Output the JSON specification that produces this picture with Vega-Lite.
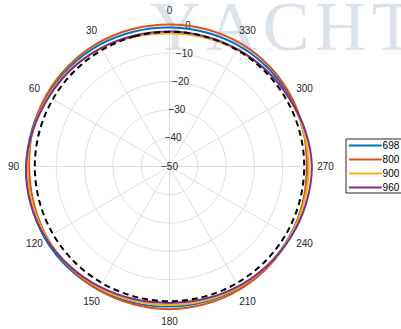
{
  "$schema": "https://vega.github.io/schema/vega-lite/v6.json",
  "width": 320,
  "height": 320,
  "autosize": {"type": "none"},
  "padding": {"left": 9.5, "top": 6.5, "right": 71.5, "bottom": 2.5},
  "background": "white",
  "config": {"view": {"stroke": null}, "font": "Liberation Sans"},
  "datasets": {
    "rings": [{"db": [-40, -30, -20, -10], "a": [0, 10, 20, 30, 40, 50, 60, 70, 80, 90, 100, 110, 120, 130, 140, 150, 160, 170, 180, 190, 200, 210, 220, 230, 240, 250, 260, 270, 280, 290, 300, 310, 320, 330, 340, 350]}],
    "spokes": [{"a": [0, 30, 60, 90, 120, 150, 180, 210, 240, 270, 300, 330], "db": [-50, -2.5]}],
    "rticks": [{"db": -50}, {"db": -40}, {"db": -30}, {"db": -20}, {"db": -10}, {"db": 0}],
    "angles": [{"a": 0}, {"a": 30}, {"a": 60}, {"a": 90}, {"a": 120}, {"a": 150}, {"a": 180}, {"a": 210}, {"a": 240}, {"a": 270}, {"a": 300}, {"a": 330}],
    "pattern": [
      {"f": "698 MHz", "a": 0, "v": -0.9}, {"f": "698 MHz", "a": 15, "v": -0.7}, {"f": "698 MHz", "a": 30, "v": -0.4}, {"f": "698 MHz", "a": 45, "v": -0.2},
      {"f": "698 MHz", "a": 60, "v": 0.0}, {"f": "698 MHz", "a": 75, "v": 0.3}, {"f": "698 MHz", "a": 90, "v": 0.6}, {"f": "698 MHz", "a": 105, "v": 0.7},
      {"f": "698 MHz", "a": 120, "v": 0.8}, {"f": "698 MHz", "a": 135, "v": 0.6}, {"f": "698 MHz", "a": 150, "v": 0.2}, {"f": "698 MHz", "a": 165, "v": -0.2},
      {"f": "698 MHz", "a": 180, "v": -0.5}, {"f": "698 MHz", "a": 195, "v": -0.6}, {"f": "698 MHz", "a": 210, "v": -0.6}, {"f": "698 MHz", "a": 225, "v": -0.7},
      {"f": "698 MHz", "a": 240, "v": -0.9}, {"f": "698 MHz", "a": 255, "v": -1.1}, {"f": "698 MHz", "a": 270, "v": -1.2}, {"f": "698 MHz", "a": 285, "v": -1.1},
      {"f": "698 MHz", "a": 300, "v": -0.9}, {"f": "698 MHz", "a": 315, "v": -0.8}, {"f": "698 MHz", "a": 330, "v": -0.8}, {"f": "698 MHz", "a": 345, "v": -0.9},
      {"f": "800 MHz", "a": 0, "v": 0.2}, {"f": "800 MHz", "a": 15, "v": 0.3}, {"f": "800 MHz", "a": 30, "v": 0.4}, {"f": "800 MHz", "a": 45, "v": 0.4},
      {"f": "800 MHz", "a": 60, "v": 0.3}, {"f": "800 MHz", "a": 75, "v": 0.0}, {"f": "800 MHz", "a": 90, "v": -0.4}, {"f": "800 MHz", "a": 105, "v": -0.3},
      {"f": "800 MHz", "a": 120, "v": 0.0}, {"f": "800 MHz", "a": 135, "v": 0.2}, {"f": "800 MHz", "a": 150, "v": 0.3}, {"f": "800 MHz", "a": 165, "v": 0.3},
      {"f": "800 MHz", "a": 180, "v": 0.4}, {"f": "800 MHz", "a": 195, "v": 0.2}, {"f": "800 MHz", "a": 210, "v": 0.0}, {"f": "800 MHz", "a": 225, "v": -0.3},
      {"f": "800 MHz", "a": 240, "v": -0.7}, {"f": "800 MHz", "a": 255, "v": -1.2}, {"f": "800 MHz", "a": 270, "v": -1.5}, {"f": "800 MHz", "a": 285, "v": -1.0},
      {"f": "800 MHz", "a": 300, "v": -0.4}, {"f": "800 MHz", "a": 315, "v": 0.0}, {"f": "800 MHz", "a": 330, "v": 0.2}, {"f": "800 MHz", "a": 345, "v": 0.2},
      {"f": "900 MHz", "a": 0, "v": -3.0}, {"f": "900 MHz", "a": 15, "v": -2.5}, {"f": "900 MHz", "a": 30, "v": -1.6}, {"f": "900 MHz", "a": 45, "v": -0.9},
      {"f": "900 MHz", "a": 60, "v": -0.5}, {"f": "900 MHz", "a": 75, "v": -0.1}, {"f": "900 MHz", "a": 90, "v": 0.2}, {"f": "900 MHz", "a": 105, "v": 0.3},
      {"f": "900 MHz", "a": 120, "v": 0.2}, {"f": "900 MHz", "a": 135, "v": -0.1}, {"f": "900 MHz", "a": 150, "v": -0.5}, {"f": "900 MHz", "a": 165, "v": -0.9},
      {"f": "900 MHz", "a": 180, "v": -1.1}, {"f": "900 MHz", "a": 195, "v": -1.0}, {"f": "900 MHz", "a": 210, "v": -0.8}, {"f": "900 MHz", "a": 225, "v": -0.7},
      {"f": "900 MHz", "a": 240, "v": -0.7}, {"f": "900 MHz", "a": 255, "v": -0.8}, {"f": "900 MHz", "a": 270, "v": -0.8}, {"f": "900 MHz", "a": 285, "v": -1.0},
      {"f": "900 MHz", "a": 300, "v": -1.3}, {"f": "900 MHz", "a": 315, "v": -1.8}, {"f": "900 MHz", "a": 330, "v": -2.3}, {"f": "900 MHz", "a": 345, "v": -2.8},
      {"f": "960 MHz", "a": 0, "v": -2.3}, {"f": "960 MHz", "a": 15, "v": -2.1}, {"f": "960 MHz", "a": 30, "v": -1.7}, {"f": "960 MHz", "a": 45, "v": -1.2},
      {"f": "960 MHz", "a": 60, "v": -0.8}, {"f": "960 MHz", "a": 75, "v": -0.1}, {"f": "960 MHz", "a": 90, "v": 0.7}, {"f": "960 MHz", "a": 105, "v": 0.8},
      {"f": "960 MHz", "a": 120, "v": 0.5}, {"f": "960 MHz", "a": 135, "v": -0.2}, {"f": "960 MHz", "a": 150, "v": -0.9}, {"f": "960 MHz", "a": 165, "v": -1.5},
      {"f": "960 MHz", "a": 180, "v": -1.8}, {"f": "960 MHz", "a": 195, "v": -1.6}, {"f": "960 MHz", "a": 210, "v": -1.2}, {"f": "960 MHz", "a": 225, "v": -0.8},
      {"f": "960 MHz", "a": 240, "v": -0.4}, {"f": "960 MHz", "a": 255, "v": 0.0}, {"f": "960 MHz", "a": 270, "v": 0.3}, {"f": "960 MHz", "a": 285, "v": -0.4},
      {"f": "960 MHz", "a": 300, "v": -1.3}, {"f": "960 MHz", "a": 315, "v": -1.8}, {"f": "960 MHz", "a": 330, "v": -2.1}, {"f": "960 MHz", "a": 345, "v": -2.3}
    ],
    "reference": [
      {"a": 0, "v": -2.4}, {"a": 15, "v": -2.4}, {"a": 30, "v": -2.4}, {"a": 45, "v": -2.4}, {"a": 60, "v": -2.4}, {"a": 75, "v": -2.4},
      {"a": 90, "v": -2.4}, {"a": 105, "v": -2.4}, {"a": 120, "v": -2.4}, {"a": 135, "v": -2.4}, {"a": 150, "v": -2.4}, {"a": 165, "v": -2.4},
      {"a": 180, "v": -2.4}, {"a": 195, "v": -2.4}, {"a": 210, "v": -2.4}, {"a": 225, "v": -2.4}, {"a": 240, "v": -2.4}, {"a": 255, "v": -2.4},
      {"a": 270, "v": -2.4}, {"a": 285, "v": -2.4}, {"a": 300, "v": -2.4}, {"a": 315, "v": -2.4}, {"a": 330, "v": -2.4}, {"a": 345, "v": -2.4}
    ]
  },
  "layer": [
    {
      "data": {"values": [{"t": "Y\u200aA\u200aC\u200aH\u200aT", "px": -6.89, "py": 41.17}]},
      "mark": {"type": "text", "font": "Liberation Serif", "fontSize": 70, "align": "left", "baseline": "alphabetic", "color": "#dce2ea", "limit": 0},
      "encoding": {
        "text": {"field": "t", "type": "nominal"},
        "x": {"field": "px", "type": "quantitative", "scale": {"domain": [-56.537, 56.537], "nice": false, "zero": false}, "axis": null},
        "y": {"field": "py", "type": "quantitative", "scale": {"domain": [-56.537, 56.537], "nice": false, "zero": false}, "axis": null}
      }
    },
    {
      "data": {"name": "rings"},
      "transform": [
        {"flatten": ["db"]},
        {"flatten": ["a"]},
        {"calculate": "datum.db + 50", "as": "r"},
        {"calculate": "-datum.r * sin(datum.a * PI / 180)", "as": "px"},
        {"calculate": "datum.r * cos(datum.a * PI / 180)", "as": "py"}
      ],
      "mark": {"type": "line", "interpolate": "cardinal-closed", "stroke": "#dfdfdf", "strokeWidth": 1},
      "encoding": {
        "x": {"field": "px", "type": "quantitative"},
        "y": {"field": "py", "type": "quantitative"},
        "detail": {"field": "db", "type": "nominal"},
        "order": {"field": "a", "type": "quantitative"}
      }
    },
    {
      "data": {"name": "spokes"},
      "transform": [
        {"flatten": ["a"]},
        {"flatten": ["db"]},
        {"calculate": "datum.db + 50", "as": "r"},
        {"calculate": "-datum.r * sin(datum.a * PI / 180)", "as": "px"},
        {"calculate": "datum.r * cos(datum.a * PI / 180)", "as": "py"}
      ],
      "mark": {"type": "line", "stroke": "#dfdfdf", "strokeWidth": 1},
      "encoding": {
        "x": {"field": "px", "type": "quantitative"},
        "y": {"field": "py", "type": "quantitative"},
        "detail": {"field": "a", "type": "nominal"},
        "order": {"field": "r", "type": "quantitative"}
      }
    },
    {
      "data": {"name": "rticks"},
      "transform": [
        {"calculate": "(datum.db + 50) * 0.1305", "as": "px"},
        {"calculate": "(datum.db + 50) * 0.9914", "as": "py"}
      ],
      "mark": {"type": "text", "fontSize": 10, "color": "#262626", "align": "center", "baseline": "middle"},
      "encoding": {
        "x": {"field": "px", "type": "quantitative"},
        "y": {"field": "py", "type": "quantitative"},
        "text": {"field": "db", "type": "quantitative"}
      }
    },
    {
      "data": {"name": "angles"},
      "transform": [
        {"calculate": "-55.12 * sin(datum.a * PI / 180)", "as": "px"},
        {"calculate": "55.12 * cos(datum.a * PI / 180)", "as": "py"}
      ],
      "mark": {"type": "text", "fontSize": 10, "color": "#262626", "align": "center", "baseline": "middle"},
      "encoding": {
        "x": {"field": "px", "type": "quantitative"},
        "y": {"field": "py", "type": "quantitative"},
        "text": {"field": "a", "type": "quantitative"}
      }
    },
    {
      "data": {"name": "pattern"},
      "transform": [
        {"calculate": "datum.v + 50", "as": "r"},
        {"calculate": "-datum.r * sin(datum.a * PI / 180)", "as": "px"},
        {"calculate": "datum.r * cos(datum.a * PI / 180)", "as": "py"}
      ],
      "mark": {"type": "line", "interpolate": "cardinal-closed", "strokeWidth": 2},
      "encoding": {
        "x": {"field": "px", "type": "quantitative"},
        "y": {"field": "py", "type": "quantitative"},
        "order": {"field": "a", "type": "quantitative"},
        "color": {
          "field": "f",
          "type": "nominal",
          "scale": {"domain": ["698 MHz", "800 MHz", "900 MHz", "960 MHz"], "range": ["#0072BD", "#D95319", "#EDB120", "#7E2F8E"]},
          "legend": {
            "orient": "none",
            "legendX": 336,
            "legendY": 132,
            "title": null,
            "symbolType": "M-2.75,0H2.75",
            "symbolSize": 144,
            "symbolStrokeWidth": 2,
            "symbolOffset": 12.8,
            "labelOffset": 10.3,
            "padding": 0,
            "rowPadding": 2,
            "strokeColor": "#262626",
            "fillColor": "white",
            "labelFontSize": 10,
            "labelColor": "#000000",
            "labelLimit": 0
          }
        }
      }
    },
    {
      "data": {"name": "reference"},
      "transform": [
        {"calculate": "datum.v + 50", "as": "r"},
        {"calculate": "-datum.r * sin(datum.a * PI / 180)", "as": "px"},
        {"calculate": "datum.r * cos(datum.a * PI / 180)", "as": "py"}
      ],
      "mark": {"type": "line", "interpolate": "cardinal-closed", "strokeWidth": 2, "color": "#000000", "strokeDash": [6, 4]},
      "encoding": {
        "x": {"field": "px", "type": "quantitative"},
        "y": {"field": "py", "type": "quantitative"},
        "order": {"field": "a", "type": "quantitative"}
      }
    }
  ]
}
